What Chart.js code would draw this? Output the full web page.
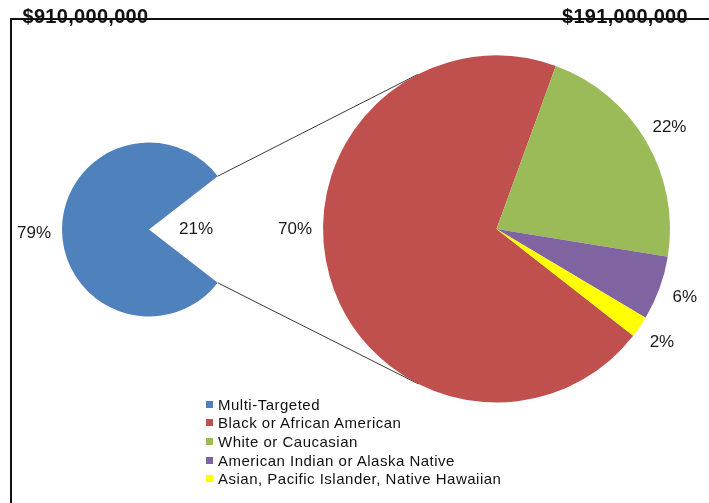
<!DOCTYPE html>
<html><head><meta charset="utf-8">
<script src="https://cdn.jsdelivr.net/npm/chart.js@4.4.1/dist/chart.umd.min.js"></script>
<style>
html,body{margin:0;padding:0;background:#fff;}
#wrap{position:relative;width:709px;height:503px;overflow:hidden;font-family:"Liberation Sans",Arial,sans-serif;}
canvas{position:absolute;left:0;top:0;}
#frame{position:absolute;left:10px;top:18px;width:720px;height:500px;border-top:2px solid #111;border-left:2px solid #111;}
.title{position:absolute;font-weight:bold;font-size:20px;letter-spacing:0.3px;color:#111;line-height:20px;white-space:nowrap;z-index:5;}
#legend{position:absolute;left:206px;top:395px;font-size:15px;letter-spacing:0.5px;color:#111;z-index:5;}
.row{display:flex;align-items:center;height:18.6px;white-space:nowrap;}
.sw{width:7px;height:7px;margin-right:5px;flex:none;}
</style></head>
<body>
<div id="wrap">
  <div id="frame"></div>
  <canvas id="small" width="709" height="503"></canvas>
  <canvas id="big" width="709" height="503"></canvas>
  <div class="title" id="t1" style="left:22.5px;top:6px;"></div>
  <div class="title" id="t2" style="left:562px;top:6px;"></div>
  <div id="legend"></div>
</div>
<script>
// ---- data ----
const fundingTotals = ['$910,000,000', '$191,000,000'];
const overviewLabels = ['Multi-Targeted', 'Other'];
const overviewValues = [79, 21];
const detailLabels = ['Black or African American', 'White or Caucasian', 'American Indian or Alaska Native', 'Asian, Pacific Islander, Native Hawaiian'];
const detailValues = [70, 22, 6, 2];
// ---- styles ----
const overviewColors = ['#4F81BD', 'rgba(0,0,0,0)'];
const detailColors = ['#C0504D', '#9BBB59', '#8064A2', '#FFFF00'];

document.getElementById('t1').textContent = fundingTotals[0];
document.getElementById('t2').textContent = fundingTotals[1];

// legend
const legend = document.getElementById('legend');
const legendItems = [[overviewLabels[0], overviewColors[0]]].concat(detailLabels.map((l, i) => [l, detailColors[i]]));
legendItems.forEach(([label, color]) => {
  const row = document.createElement('div'); row.className = 'row';
  const sw = document.createElement('span'); sw.className = 'sw'; sw.style.background = color;
  const tx = document.createElement('span'); tx.textContent = label;
  row.appendChild(sw); row.appendChild(tx); legend.appendChild(row);
});

// label plugin: draws percent labels from arc geometry
function labelPlugin(cfg) {
  return {
    id: 'pctLabels',
    afterDatasetsDraw(chart) {
      const ctx = chart.ctx;
      const meta = chart.getDatasetMeta(0);
      const vals = chart.data.datasets[0].data;
      ctx.save();
      ctx.font = '17px "Liberation Sans", Arial, sans-serif';
      ctx.fillStyle = '#1a1a1a';
      ctx.textAlign = 'center';
      ctx.textBaseline = 'middle';
      meta.data.forEach((arc, i) => {
        const c = cfg[i] || {};
        let ang = (arc.startAngle + arc.endAngle) / 2;
        if (c.angle !== undefined) ang = c.angle * Math.PI / 180;
        const dist = c.inside !== undefined ? arc.outerRadius * c.inside : arc.outerRadius + (c.offset !== undefined ? c.offset : 27);
        const x = arc.x + Math.cos(ang) * dist;
        const y = arc.y + Math.sin(ang) * dist + (c.dy || 0);
        ctx.fillText(vals[i] + '%', x, y);
      });
      ctx.restore();
    }
  };
}

const gapFraction = overviewValues[1] / overviewValues.reduce((a, b) => a + b, 0);

const smallChart = new Chart(document.getElementById('small'), {
  type: 'pie',
  data: { labels: overviewLabels, datasets: [{ data: overviewValues, backgroundColor: overviewColors, borderWidth: 0, hoverOffset: 0 }] },
  options: {
    responsive: false, animation: false, events: [],
    rotation: 90 + 180 * gapFraction,
    layout: { padding: { left: 62, right: 473, top: 142.5, bottom: 186.5 } },
    plugins: { legend: { display: false }, tooltip: { enabled: false } }
  },
  plugins: [labelPlugin({ 0: { offset: 28, dy: 4 }, 1: { inside: 0.54 } })]
});

const connectorPlugin = {
  id: 'connectors',
  beforeDatasetsDraw(chart) {
    const gap = smallChart.getDatasetMeta(0).data[1];
    const bigArc = chart.getDatasetMeta(0).data[0];
    const C = { x: bigArc.x, y: bigArc.y }, R = bigArc.outerRadius;
    const ctx = chart.ctx;
    ctx.save();
    ctx.strokeStyle = '#3a3a3a';
    ctx.lineWidth = 1;
    [gap.startAngle, gap.endAngle].forEach(a => {
      const P = { x: gap.x + Math.cos(a) * gap.outerRadius, y: gap.y + Math.sin(a) * gap.outerRadius };
      const d = Math.hypot(P.x - C.x, P.y - C.y);
      const th = Math.atan2(P.y - C.y, P.x - C.x);
      const al = Math.acos(R / d);
      const cands = [th + al, th - al].map(t => ({ x: C.x + R * Math.cos(t), y: C.y + R * Math.sin(t) }));
      const upper = P.y < gap.y;
      const T = upper ? (cands[0].y < cands[1].y ? cands[0] : cands[1]) : (cands[0].y > cands[1].y ? cands[0] : cands[1]);
      ctx.beginPath(); ctx.moveTo(P.x, P.y); ctx.lineTo(T.x, T.y); ctx.stroke();
    });
    ctx.restore();
  }
};

const bigChart = new Chart(document.getElementById('big'), {
  type: 'pie',
  data: { labels: detailLabels, datasets: [{ data: detailValues, backgroundColor: detailColors, borderWidth: 0, hoverOffset: 0 }] },
  options: {
    responsive: false, animation: false, events: [],
    rotation: 128,
    layout: { padding: { left: 323, right: 39, top: 55.5, bottom: 100.5 } },
    plugins: { legend: { display: false }, tooltip: { enabled: false } }
  },
  plugins: [connectorPlugin, labelPlugin({ 0: { angle: 180, offset: 28 } })]
});
</script>
</body></html>
